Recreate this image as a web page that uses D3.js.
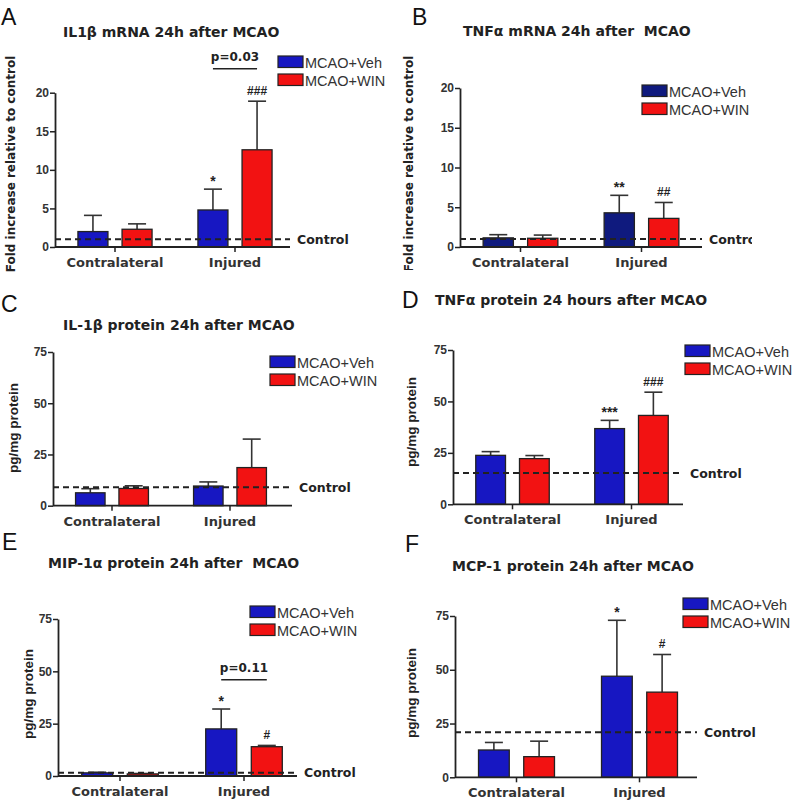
<!DOCTYPE html>
<html>
<head>
<meta charset="utf-8">
<script src="https://cdn.jsdelivr.net/npm/d3@7/dist/d3.min.js"></script>
<style>
  html, body { margin: 0; padding: 0; background: #fff; }
  svg { display: block; font-family: "Liberation Sans", Arial, sans-serif; }
  .wide { font-family: "DejaVu Sans", Verdana, sans-serif; font-weight: bold; }
  .pre { white-space: pre; }
</style>
</head>
<body>
<svg id="chart" width="800" height="805"></svg>
<script>
// ---------------- DATA ----------------
const groups = ["Contralateral", "Injured"];
const seriesNames = ["MCAO+Veh", "MCAO+WIN"];
const panelLetters = ["A", "B", "C", "D", "E", "F"];
const titles = [
  "IL1β mRNA 24h after MCAO",
  "TNFα mRNA 24h after  MCAO",
  "IL-1β protein 24h after MCAO",
  "TNFα protein 24 hours after MCAO",
  "MIP-1α protein 24h after  MCAO",
  "MCP-1 protein 24h after MCAO"
];
const yLabels = [
  "Fold increase relative to control",
  "Fold increase relative to control",
  "pg/mg protein", "pg/mg protein", "pg/mg protein", "pg/mg protein"
];
const yMax = [20, 20, 75, 75, 75, 75];
const yTicks = [[0, 5, 10, 15, 20], [0, 5, 10, 15, 20], [0, 25, 50, 75], [0, 25, 50, 75], [0, 25, 50, 75], [0, 25, 50, 75]];

// mean values [Contralateral, Injured]
const vehA = [2.0, 4.8],  winA = [2.3, 12.6];
const vehB = [1.15, 4.3], winB = [1.1, 3.6];
const vehC = [6.3, 9.6],  winC = [8.4, 18.6];
const vehD = [23.8, 36.8], winD = [22.2, 43.2];
const vehE = [1.5, 22.5], winE = [1.0, 14.0];
const vehF = [12.7, 47.0], winF = [9.6, 39.6];
// upper error (SEM)
const vehErrA = [2.1, 2.7],  winErrA = [0.7, 6.3];
const vehErrB = [0.4, 2.2],  winErrB = [0.4, 2.0];
const vehErrC = [2.0, 2.0],  winErrC = [1.3, 13.9];
const vehErrD = [1.8, 4.0],  winErrD = [1.5, 11.3];
const vehErrE = [0.3, 9.5],  winErrE = [0.2, 0.6];
const vehErrF = [3.5, 26.0], winErrF = [7.2, 17.5];
// control level (dashed line)
const controlLevels = [1.0, 1.0, 9.0, 15.2, 1.5, 21.0];
// significance marks
const vehMarks = [["", "*"], ["", "**"], ["", ""], ["", "***"], ["", "*"], ["", "*"]];
const winMarks = [["", "###"], ["", "##"], ["", ""], ["", "###"], ["", "#"], ["", "#"]];
// bracket p-values (between Injured bars)
const pLabels = ["p=0.03", null, null, null, "p=0.11", null];
const pLevels = [23.1, null, null, null, 46, null];

const vehData = [vehA, vehB, vehC, vehD, vehE, vehF];
const winData = [winA, winB, winC, winD, winE, winF];
const vehErr = [vehErrA, vehErrB, vehErrC, vehErrD, vehErrE, vehErrF];
const winErr = [winErrA, winErrB, winErrC, winErrD, winErrE, winErrF];

// ---------------- LAYOUT ----------------
const layout = [
  { ax: 55,  y0: 247,   yTop: 92.7, step: 120, axisLen: 235, letter: [1, 25],   title: [63, 37],   legend: [278, 56],  ylab: [11, 164], ylabWide: true,  vehColor: "#1717c2", clipX: null },
  { ax: 460, y0: 247,   yTop: 88,   step: 121, axisLen: 242, letter: [412, 25], title: [463, 36],  legend: [642, 85],  ylab: [409, 164], ylabWide: true,  vehColor: "#0f1a7e", clipX: 752 },
  { ax: 53,  y0: 505.7, yTop: 352,  step: 118, axisLen: 239, letter: [1, 312],  title: [63, 330],  legend: [270, 356], ylab: [13, 428], ylabWide: false, vehColor: "#1717c2", clipX: null },
  { ax: 453, y0: 504.3, yTop: 350,  step: 119, axisLen: 230, letter: [402, 308], title: [435, 305], legend: [685, 345], ylab: [411, 422], ylabWide: false, vehColor: "#1717c2", clipX: null },
  { ax: 58,  y0: 776,   yTop: 619,  step: 124, axisLen: 239, letter: [2, 550],  title: [48, 568],  legend: [250, 606], ylab: [28, 694], ylabWide: false, vehColor: "#1717c2", clipX: null },
  { ax: 455, y0: 777.3, yTop: 616,  step: 123, axisLen: 242, letter: [405, 552], title: [452, 571], legend: [683, 598], ylab: [411, 693], ylabWide: false, vehColor: "#1717c2", clipX: null }
];
const winColor = "#f21212";
const ink = "#222";

const svg = d3.select("#chart");
const defs = svg.append("defs");

layout.forEach((L, i) => {
  let g = svg.append("g");
  if (L.clipX) {
    defs.append("clipPath").attr("id", "clip" + i)
      .append("rect").attr("x", 400).attr("y", 0).attr("width", L.clipX - 400).attr("height", 270);
    g.attr("clip-path", "url(#clip" + i + ")");
  }

  const y = d3.scaleLinear().domain([0, yMax[i]]).range([L.y0, L.yTop]);
  const x = d3.scaleBand().domain(groups).range([L.ax, L.ax + 2 * L.step]).paddingInner(0).paddingOuter(0);
  const xi = d3.scaleBand().domain(seriesNames).range([0, x.bandwidth()]).paddingInner(0.32).paddingOuter(0.52);
  const colors = [L.vehColor, winColor];

  // letter
  g.append("text").attr("x", L.letter[0]).attr("y", L.letter[1])
    .attr("font-size", 23).attr("fill", "#111").text(panelLetters[i]);
  // title
  g.append("text").attr("class", "wide pre").attr("x", L.title[0]).attr("y", L.title[1])
    .attr("xml:space", "preserve")
    .attr("font-size", 14).attr("fill", "#222").text(titles[i]);
  // y label
  const yl = g.append("text")
    .attr("transform", `translate(${L.ylab[0]},${L.ylab[1]}) rotate(-90)`)
    .attr("text-anchor", "middle").attr("dominant-baseline", "central")
    .attr("fill", "#222").text(yLabels[i]);
  if (L.ylabWide) yl.attr("class", "wide").attr("font-size", 12);
  else yl.attr("font-weight", "bold").attr("font-size", 13.5);

  // bars
  const series = [vehData[i], winData[i]];
  const errs = [vehErr[i], winErr[i]];
  const marks = [vehMarks[i], winMarks[i]];
  series.forEach((vals, s) => {
    groups.forEach((grp, gi) => {
      const bx = x(grp) + xi(seriesNames[s]);
      const bw = xi.bandwidth();
      const top = y(vals[gi]);
      const errTop = y(vals[gi] + errs[s][gi]);
      const cx = bx + bw / 2;
      // error bar
      g.append("line").attr("x1", cx).attr("x2", cx).attr("y1", top).attr("y2", errTop)
        .attr("stroke", "#333").attr("stroke-width", 1.6);
      g.append("line").attr("x1", cx - 9).attr("x2", cx + 9).attr("y1", errTop).attr("y2", errTop)
        .attr("stroke", "#333").attr("stroke-width", 1.6);
      g.append("rect").attr("x", bx).attr("y", top).attr("width", bw).attr("height", L.y0 - top)
        .attr("fill", colors[s]).attr("stroke", ink).attr("stroke-width", 1.3);
      const m = marks[s][gi];
      if (m) {
        const isHash = m[0] === "#";
        g.append("text").attr("x", cx).attr("y", errTop - (isHash ? 6 : 3))
          .attr("text-anchor", "middle").attr("font-size", isHash ? 12 : 14).attr("font-weight", "bold")
          .attr("fill", "#222").text(m);
      }
    });
  });

  // control dashed line
  const cy = y(controlLevels[i]);
  g.append("line").attr("x1", L.ax).attr("x2", L.ax + L.axisLen).attr("y1", cy).attr("y2", cy)
    .attr("stroke", ink).attr("stroke-width", 2).attr("stroke-dasharray", "6,4");
  g.append("text").attr("class", "wide").attr("x", L.ax + L.axisLen + 7).attr("y", cy).attr("dominant-baseline", "central")
    .attr("font-size", 12.5).attr("fill", "#222").text("Control");

  // y axis
  const yAxis = d3.axisLeft(y).tickValues(yTicks[i]).tickSize(5).tickSizeOuter(0);
  const ya = g.append("g").attr("transform", `translate(${L.ax},0)`).call(yAxis);
  ya.select(".domain").attr("stroke", ink).attr("stroke-width", 1.8);
  ya.selectAll(".tick line").attr("stroke", ink).attr("stroke-width", 1.5);
  ya.selectAll(".tick text").attr("font-size", 12).attr("font-weight", "bold").attr("fill", "#333")
    .attr("font-family", "Liberation Sans, Arial, sans-serif").attr("x", -6);

  // x axis
  g.append("line").attr("x1", L.ax).attr("x2", L.ax + L.axisLen).attr("y1", L.y0).attr("y2", L.y0)
    .attr("stroke", ink).attr("stroke-width", 1.8);
  const xAxis = d3.axisBottom(x).tickSize(5).tickSizeOuter(0);
  const xa = g.append("g").attr("transform", `translate(0,${L.y0})`).call(xAxis);
  xa.select(".domain").remove();
  xa.selectAll(".tick line").attr("stroke", ink).attr("stroke-width", 1.5);
  xa.selectAll(".tick text").attr("font-size", 13).attr("font-weight", "bold").attr("fill", "#333")
    .attr("font-family", "DejaVu Sans, Verdana, sans-serif").attr("dy", null).attr("y", 20);

  // legend
  seriesNames.forEach((nm, s) => {
    const ly = L.legend[1] + s * 18;
    g.append("rect").attr("x", L.legend[0]).attr("y", ly).attr("width", 25).attr("height", 11.5)
      .attr("fill", colors[s]).attr("stroke", ink).attr("stroke-width", 1.2);
    g.append("text").attr("x", L.legend[0] + 27).attr("y", ly + 11.5)
      .attr("font-size", 14.5).attr("fill", "#333").text(nm);
  });

  // p-value bracket
  if (pLabels[i]) {
    const py = y(pLevels[i]);
    const x1 = x("Injured") + xi(seriesNames[0]) + xi.bandwidth() / 2;
    const x2 = x("Injured") + xi(seriesNames[1]) + xi.bandwidth() / 2;
    g.append("line").attr("x1", x1).attr("x2", x2).attr("y1", py).attr("y2", py)
      .attr("stroke", ink).attr("stroke-width", 1.6);
    g.append("text").attr("class", "wide").attr("x", (x1 + x2) / 2).attr("y", py - 8).attr("text-anchor", "middle")
      .attr("font-size", 12).attr("fill", "#222").text(pLabels[i]);
  }
});
</script>
</body>
</html>
